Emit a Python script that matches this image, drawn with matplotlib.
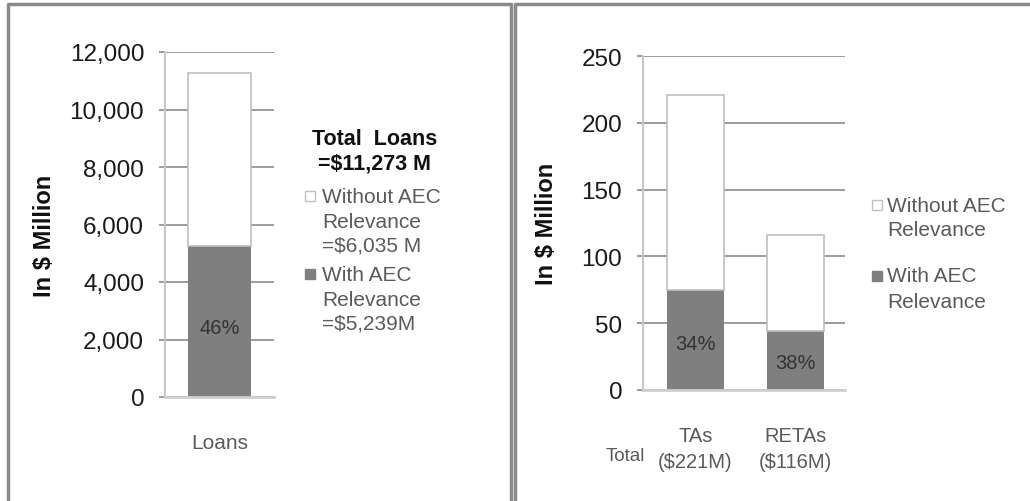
import matplotlib.pyplot as plt
from matplotlib.patches import Rectangle
from matplotlib.lines import Line2D

plt.rcParams['font.family'] = ['Liberation Sans', 'DejaVu Sans']

# Loans (left panel)
loan_cats = ['Loans']
loans_with = [5239]
loans_without = [6035]
loans_total_text = '$11,273 M'

# Technical assistance (right panel)
ta_cats = ['TAs', 'RETAs']
ta_with = [75, 44]
ta_without = [146, 72]

DARK = '#7f7f7f'
EDGE = '#bfbfbf'
GRID = '#9c9c9c'
TXT = '#5a5a5a'

W, H = 1030, 502
fig = plt.figure(figsize=(W / 100, H / 100), dpi=100)


def px(x, y):
    # pixel position -> figure fraction
    return x / W, 1 - y / H


def style_axes(ax):
    ax.set_axisbelow(True)
    ax.yaxis.grid(True, color=GRID, linewidth=1.4)
    for side in ['top', 'right']:
        ax.spines[side].set_visible(False)
    ax.spines['left'].set_color('#c8c8c8')
    ax.spines['left'].set_linewidth(1.5)
    ax.spines['bottom'].set_color('#cfcfcf')
    ax.spines['bottom'].set_linewidth(2)
    ax.tick_params(axis='y', length=4, width=1.4, color=GRID, pad=11,
                   labelsize=17.5, labelcolor='#1a1a1a')
    ax.tick_params(axis='x', length=0, labelsize=15, labelcolor=TXT)
    ax.set_ylabel('In $ Million', fontsize=17, fontweight='bold', color='#111111')


def draw_stack(ax, x, with_vals, without_vals, width):
    ax.bar(x, with_vals, width=width, color=DARK, edgecolor='none')
    ax.bar(x, without_vals, bottom=with_vals, width=width, color='white',
           edgecolor=EDGE, linewidth=1.2)
    for xi, a, b in zip(x, with_vals, without_vals):
        pct = round(100 * a / (a + b))
        ax.text(xi, a * 0.46, f'{pct}%', ha='center', va='center',
                fontsize=14.5, color='#333333')


# ---- left panel: loans
ax1 = fig.add_axes([165 / W, 1 - 398 / H, 109 / W, 345 / H])
style_axes(ax1)
draw_stack(ax1, [0], loans_with, loans_without, 0.58)
ax1.set_xlim(-0.5, 0.5)
ax1.set_ylim(0, 12000)
ax1.set_yticks(range(0, 12001, 2000))
ax1.set_yticklabels([f'{v:,}' for v in range(0, 12001, 2000)])
ax1.set_xticks([0])
ax1.set_xticklabels(loan_cats)
ax1.tick_params(axis='x', pad=26)
ax1.yaxis.set_label_coords(-1.0, 0.47)

# ---- right panel: TAs and RETAs
ax2 = fig.add_axes([643 / W, 1 - 391 / H, 202 / W, 334 / H])
style_axes(ax2)
draw_stack(ax2, [0, 1], ta_with, ta_without, 0.57)
ax2.set_xlim(-0.525, 1.495)
ax2.set_ylim(0, 250)
ax2.set_yticks(range(0, 251, 50))
ax2.set_xticks([0, 1])
ax2.set_xticklabels([f'{c}\n(${a + b}M)' for c, a, b in zip(ta_cats, ta_with, ta_without)],
                    linespacing=1.45)
ax2.tick_params(axis='x', pad=26, labelsize=14.5)
ax2.yaxis.set_label_coords(-0.42, 0.5)
ax2.text(-0.705, -0.195, 'Total', transform=ax2.get_xaxis_transform(),
         ha='center', va='center', fontsize=13.5, color=TXT, clip_on=False)


# ---- legends drawn as text blocks with small square keys
def key(x, y, filled):
    fx, fy = px(x, y + 10)
    fig.patches.append(Rectangle((fx, fy), 10 / W, 10 / H, transform=fig.transFigure,
                                 facecolor=DARK if filled else 'white',
                                 edgecolor=DARK if filled else '#c0c0c0', linewidth=1))


def lines(x, ys, texts, **kw):
    for y, t in zip(ys, texts):
        fig.text(*px(x, y), t, va='center', **kw)


lines(375, [140, 164], ['Total  Loans', '=' + loans_total_text], ha='center',
      fontsize=15.5, fontweight='bold', color='#111111')
key(305, 192, False)
lines(322, [198, 222, 246], ['Without AEC', 'Relevance', f'=${loans_without[0]:,} M'],
      ha='left', fontsize=15, color=TXT)
key(305, 270, True)
lines(322, [276, 300, 324], ['With AEC', 'Relevance', f'=${loans_with[0]:,}M'],
      ha='left', fontsize=15, color=TXT)

key(872, 201, False)
lines(887, [206, 230], ['Without AEC', 'Relevance'], ha='left', fontsize=15, color=TXT)
key(872, 272, True)
lines(887, [277, 302], ['With AEC', 'Relevance'], ha='left', fontsize=15, color=TXT)

# ---- panel frames
frame = dict(color='#8a8a8a', linewidth=2.5, transform=fig.transFigure)
for xs, ys in [([8, 8, 511, 511], [H, 5, 5, H]), ([515, 515, W], [H, 5, 5])]:
    fx = [x / W for x in xs]
    fy = [1 - y / H for y in ys]
    fig.lines.append(Line2D(fx, fy, **frame))

fig.savefig('out.png', dpi=100, facecolor='white')
